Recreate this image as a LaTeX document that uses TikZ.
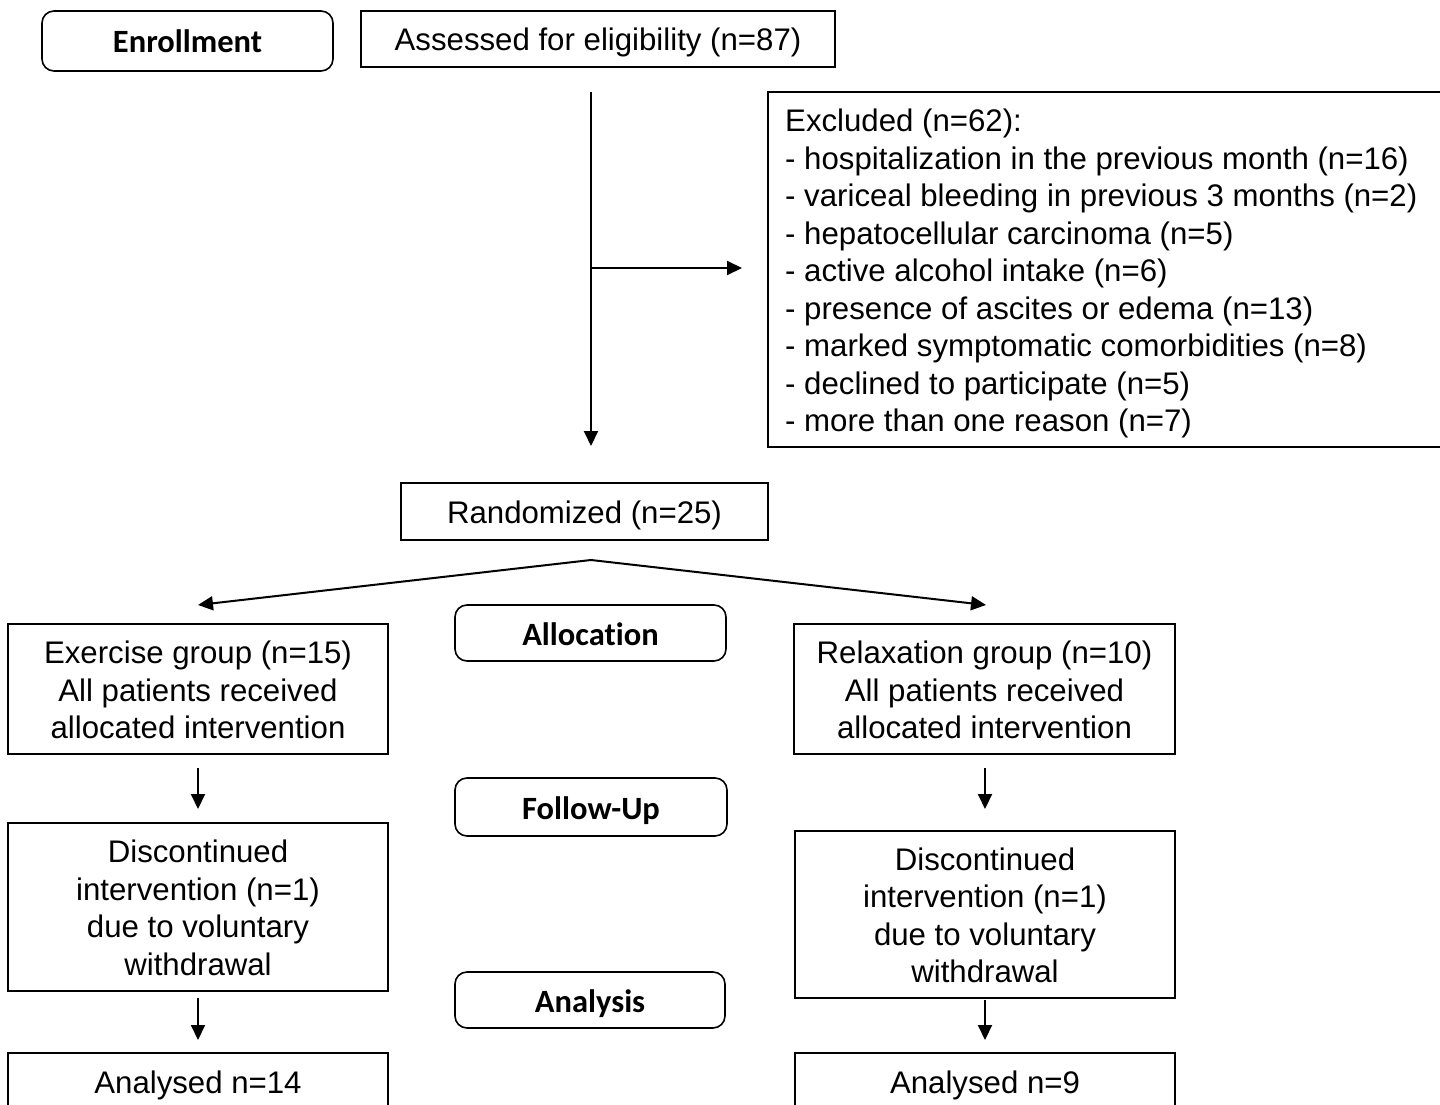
\documentclass[tikz,border=0pt]{standalone}
\usepackage{fontspec}
\setmainfont{Liberation Sans}
\newfontfamily\labfont[Ligatures=NoCommon]{Carlito}
\usetikzlibrary{arrows.meta}
\tikzset{
  every node/.style={font=\fontsize{31.2}{37.5}\selectfont},
  box/.style={draw, line width=2pt, rectangle, inner sep=0pt},
  txt/.style={inner sep=0pt, align=center},
  stage/.style={draw, line width=1.6pt, rectangle, rounded corners=12pt, inner sep=0pt, align=center,
    text height=24pt, text depth=0pt,
    font=\labfont\bfseries\fontsize{32.5}{36}\selectfont},
  arr/.style={line width=2pt, -{Triangle[length=15pt,width=14pt]}},
}
\begin{document}
\begin{tikzpicture}[x=1pt,y=-1pt]
\useasboundingbox (0,0) rectangle (1440,1105);
% stage labels
\node[stage, minimum width=291pt, minimum height=60pt] (enr) at (187.5,41) {Enrollment};
\node[stage, minimum width=271pt, minimum height=56pt] (alloc) at (590.5,633) {Allocation};
\node[stage, minimum width=272pt, minimum height=58pt] (fu) at (591,807) {Follow-Up};
\node[stage, minimum width=270pt, minimum height=56pt] (ana) at (590,1000) {Analysis};
% boxes (frames)
\node[box, minimum width=474pt, minimum height=56pt] (assess) at (598,39) {};
\node[box, minimum width=700pt, minimum height=355pt] (excl) at (1118,269.5) {};
\node[box, minimum width=367pt, minimum height=57pt] (rand) at (584.5,511.5) {};
\node[box, minimum width=380pt, minimum height=130pt] (exg) at (198,689) {};
\node[box, minimum width=381pt, minimum height=130pt] (rlg) at (984.5,689) {};
\node[box, minimum width=380pt, minimum height=168pt] (dl) at (198,907) {};
\node[box, minimum width=380pt, minimum height=167pt] (dr) at (985,914.5) {};
\node[box, minimum width=380pt, minimum height=60pt] (al) at (198,1083) {};
\node[box, minimum width=380pt, minimum height=60pt] (ar) at (985,1083) {};
% texts
\node[txt] (assess-t) at ([yshift=-3pt]assess.center) {Assessed for eligibility (n=87)};
\node[txt, align=left, anchor=west] (excl-t) at ([xshift=18pt,yshift=-4pt]excl.west) {Excluded (n=62):\\
- hospitalization in the previous month (n=16)\\
- variceal bleeding in previous 3 months (n=2)\\
- hepatocellular carcinoma (n=5)\\
- active alcohol intake (n=6)\\
- presence of ascites or edema (n=13)\\
- marked symptomatic comorbidities (n=8)\\
- declined to participate (n=5)\\
- more than one reason (n=7)};
\node[txt] (rand-t) at ([yshift=-3.5pt]rand.center) {Randomized (n=25)};
\node[txt] (exg-t) at ([yshift=-1pt]exg.center) {Exercise group (n=15)\\All patients received\\allocated intervention};
\node[txt] (rlg-t) at ([yshift=-1pt]rlg.center) {Relaxation group (n=10)\\All patients received\\allocated intervention};
\node[txt] (dl-t) at ([yshift=-1pt]dl.center) {Discontinued\\intervention (n=1)\\due to voluntary\\withdrawal};
\node[txt] (dr-t) at ([yshift=-1pt]dr.center) {Discontinued\\intervention (n=1)\\due to voluntary\\withdrawal};
\node[txt] (al-t) at ([yshift=-2pt]al.center) {Analysed n=14};
\node[txt] (ar-t) at ([yshift=-2pt]ar.center) {Analysed n=9};
% connector points
\coordinate (v1) at (591,92);
\coordinate (v2) at (591,446);
\coordinate (b1) at (591,268);
\coordinate (b2) at (742,268);
\coordinate (s0) at (591,560);
\coordinate (sL) at (198,605);
\coordinate (sR) at (986,605);
\coordinate (l1) at (198,768);
\coordinate (l2) at (198,809);
\coordinate (r1) at (985,768);
\coordinate (r2) at (985,809);
\coordinate (l3) at (198,998);
\coordinate (l4) at (198,1040);
\coordinate (r3) at (985,1000);
\coordinate (r4) at (985,1040);
\draw[arr] (v1) -- (v2);
\draw[arr] (b1) -- (b2);
\draw[arr] (s0) -- (sL);
\draw[arr] (s0) -- (sR);
\draw[arr] (l1) -- (l2);
\draw[arr] (r1) -- (r2);
\draw[arr] (l3) -- (l4);
\draw[arr] (r3) -- (r4);
\end{tikzpicture}
\end{document}
